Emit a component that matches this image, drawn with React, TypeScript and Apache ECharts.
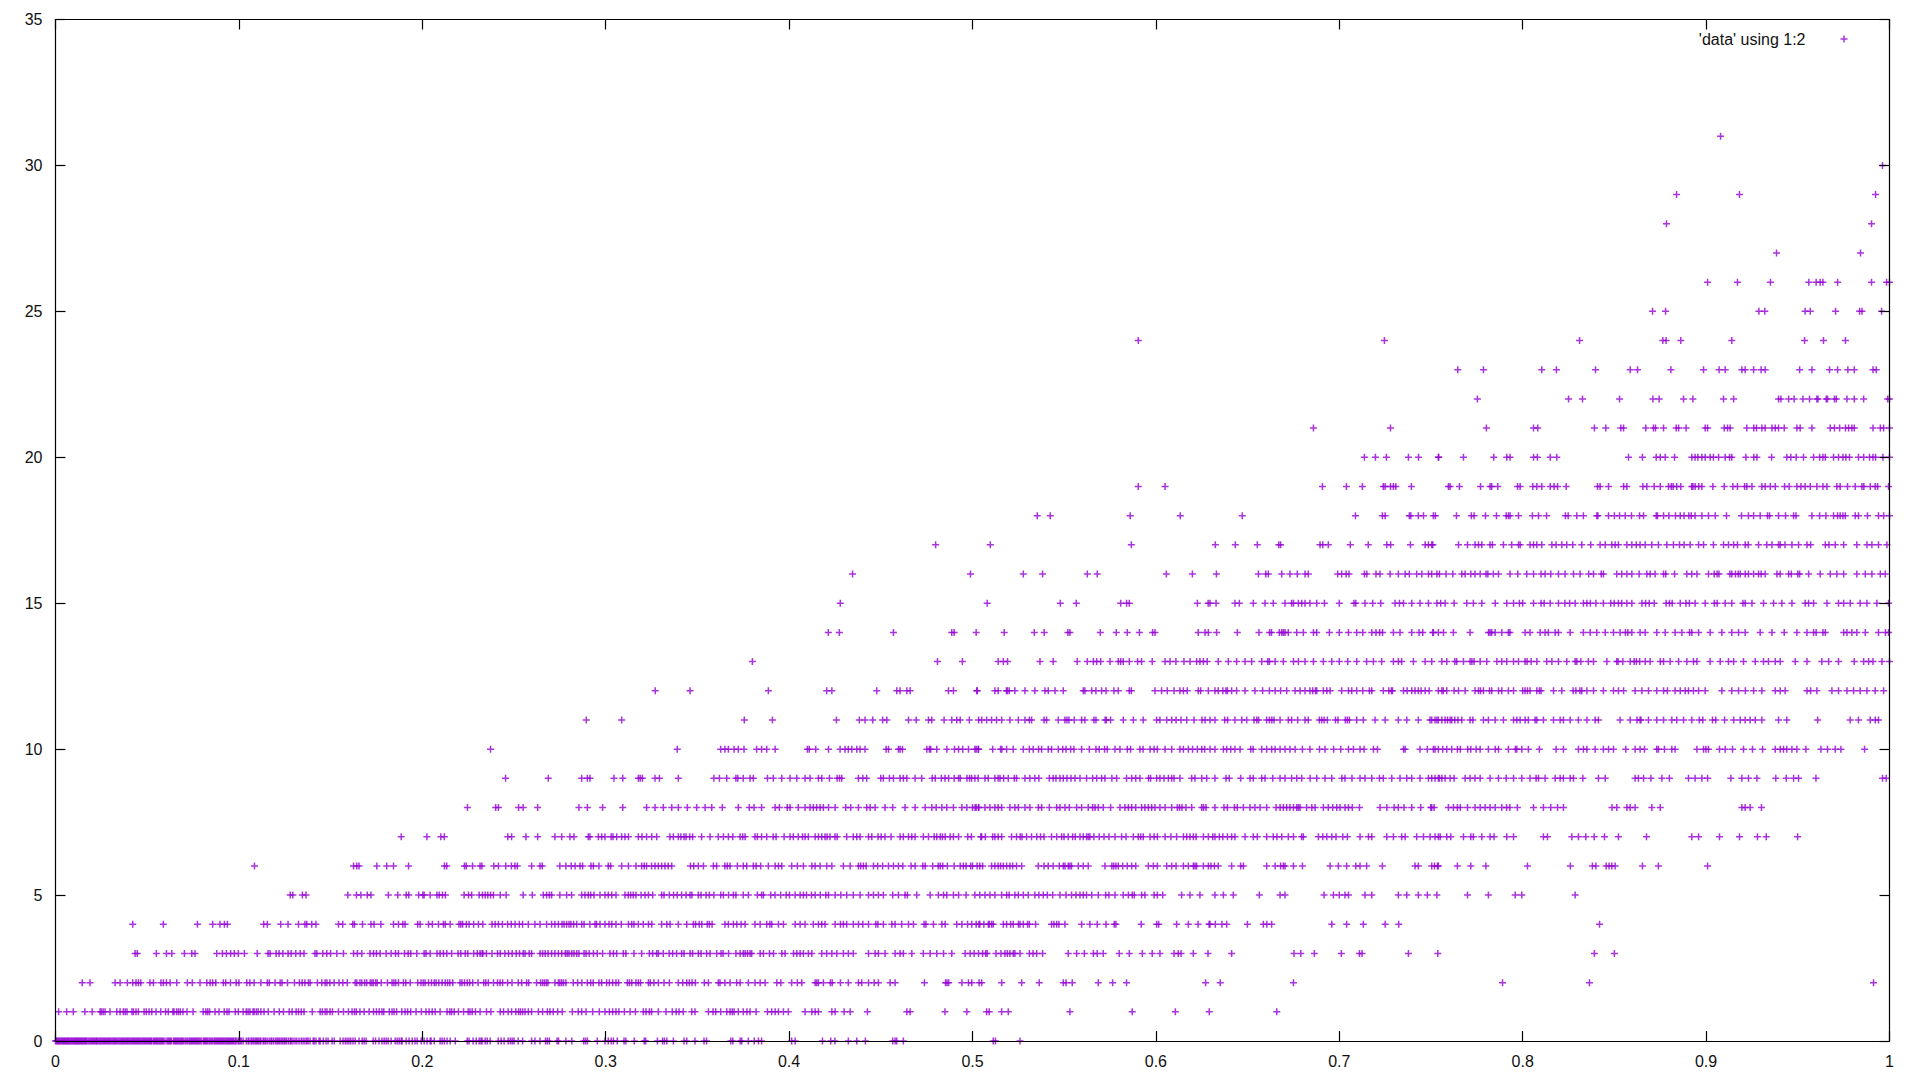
import React, { useEffect, useRef } from "react";
import * as echarts from "echarts";

const seriesName = "'data' using 1:2";
const markColor = "#9400d3";
const xTicks = { min: 0, max: 1, interval: 0.1 };
const yTicks = { min: 0, max: 35, interval: 5 };

// Each row holds the x readings (in thousandths) for one integer y value.
const row0 = [0,.5,1,1.5,2,2.5,3,3.5,4,4.5,5,5.5,6,6.5,7,7.4,8,8.5,9,9.5,10,10.5,11,11.5,12,12.5,13,13.5,14,14.5,15,15.5,16,16.5,17,17.7,18.3,19,19.6,20.2,20.8,21.4,22,22.5,23,23.7,24.3,24.8,25.4,26,26.6,27.2,27.8,28.4,29,29.6,30.2,30.8,31.4,32,32.6,33.2,33.9,34.6,35.2,35.8,36.4,37,37.6,38.2,38.8,39.4,40,40.6,41.2,41.8,42.4,43,43.6,44.2,44.8,45.4,46,46.6,47.2,47.8,48.4,49,49.6,50.2,50.8,51.4,52,52.5,53.4,54,54.6,55.2,55.8,56.4,57,57.6,58.2,58.8,59.7,60.8,61.4,62,62.6,63.2,64.3,64.9,65.5,66.1,66.7,67.3,67.9,68.5,69.1,69.7,70.6,71.2,72,72.8,73.4,74,74.6,75.2,75.8,76.4,77,77.6,78.2,78.8,79.4,80.5,81.1,81.7,82.3,82.9,83.7,84.3,85,85.7,86.5,87,87.6,88.2,88.8,89.4,90,90.6,91.2,91.8,92.4,93,93.6,94.2,94.8,95.4,96,96.6,97.2,98,98.5,99.5,100,100.7,101.4,102.3,104,105,105.5,106.6,107.2,108,108.8,109.4,110,110.7,111.5,112,113.2,113.7,114.5,115.4,116.5,117.5,118,119,120,120.8,121.4,122.2,123,123.8,124.6,125.2,126,127,128,128.5,129.5,130.6,131.6,132.8,134,135,136,137,137.7,138.8,140.5,141,142,143.7,144.3,146,147.5,148.6,150.8,152,155.2,156.8,158,159,160,161,162.2,163.4,165.5,167.2,168.3,169.4,173.2,174.5,176.4,178,179.2,180.3,181.4,183,185.2,186.3,187.4,188.5,189,191.2,192.8,194.5,196,197.2,199.4,201,202.6,204.3,204.8,206.5,209.7,210.8,212,213.5,215.2,218,224.5,225.5,227.7,229.4,231,232,232.6,234.3,235.4,237,241.4,243,244.6,246.8,248,249,250,252.3,254.7,259.6,261.4,264.2,267.2,268.2,269.3,273.5,274.3,278.3,281.5,288,289,290,295.4,299.6,301.4,303,304.2,306.3,310,311,315.6,321,321.8,328.2,331,332,333.3,336.9,342.7,344.2,348.7,353.6,355,368.2,369.3,373.3,374.2,377.8,381,383.3,385,401.4,403.3,418.2,422.7,425,432.3,436.9,441.6,456.5,457.8,458.7,462.3,511.3,512.5,525.9];
const row1 = [1.7,6.1,9.7,16,20,24.3,25,26,27,29.7,33.4,35.2,37,38,39,41.7,42.5,43.9,45.2,48.3,49.5,51,52.5,54.8,57.4,60,61.5,64,64.6,66,67,68,69.5,71.7,75,80.5,82,83,84,87,89.2,92,93.5,94.6,98,99.7,102.3,104,105,106,107.7,108.3,109.5,110.5,112,113.7,116,119.2,122,124.3,127.4,129,131.2,132.5,134,135.5,140,144.3,145.5,147,148,149.7,151,154.3,157,159.7,161.7,163,164,166,168.3,171,173.4,175,176.5,178,179,182,183.5,184.6,186,188.8,190.6,192,193.7,196.6,199.5,202,203.7,205.4,207,209.7,213.5,215,216,217.4,219.7,222.5,225,226,227.2,229,231.5,235,237.4,242.5,244.3,246.8,248.7,251,252.5,253.5,254.7,256,257.8,259.6,263.3,265.6,268.2,269.6,271.4,273.8,276.3,281.8,285,286.9,289.3,292.9,296.5,299.6,302,303.8,305.6,307.2,310.2,313.3,316.2,320.5,322,323.8,325,328.7,332.9,336.3,338.4,340,342.3,346.9,348.7,356,358.5,360,362.7,366,367.8,369,370,372.3,375,377,378.7,382,388.2,390.5,392.4,394.2,396.9,399.6,408.7,412.4,414.2,416,423.3,425.1,430,433.3,442.7,464.2,466,485,496.9,507.7,509.1,515.9,519.5,553.1,587.1,610.6,629.1,665.9];
const row2 = [14.6,18.8,32.5,35.2,39.2,42.1,43.9,45.2,46.5,51.5,53.4,57.5,58.8,60.5,62.5,66.1,71.9,74.6,78.8,82.5,84.3,85.7,87.4,91.5,92.8,95.4,98.5,100,104.3,106,108.3,112,115.5,116.6,119.7,122.5,123.5,126.5,130.3,133,134.5,136,137.9,138.8,142.8,145.2,147,148,149.6,151.9,154.6,156.7,159.1,163.4,164.3,166,167,168.6,169.7,171.6,172.5,173.3,174.6,175.4,177.6,181,183.5,184.5,185.5,187,189.7,191,193.4,197.5,199.3,200.5,201.5,203.4,205,206.5,207.5,209,210.8,212.5,213.8,215,216.6,220.6,221.6,223,224.5,225.8,227.5,230.4,233.5,234.6,236,238.8,241,242.4,243.8,246.5,248.9,252.3,254.2,256.9,258,262.3,264.5,265.6,266.6,267.6,268.5,272.3,274.2,275,276,277,278.3,282.3,284.7,287,290,291.8,293.2,296.3,297.8,300.5,302,303.8,305.6,307,311.8,312.9,314.2,316.5,317.8,319,323.3,324.3,326.3,328.7,331.8,334.7,339.6,342,344.2,345.6,347.1,348.9,353.8,356,361.4,362.3,365,367.8,371.4,373.3,377.8,381.4,384.2,386.9,393.3,395.5,401.4,404.5,406.9,414.2,415.1,416,418.7,422.5,423.5,428,432.3,437.8,439.6,443.3,446.4,448.7,455.1,457.8,473.8,485.3,486.1,487,494.2,497.8,499.6,503.6,505,515.9,526.8,536.4,549.5,551,554.4,568.6,576.4,584,627.1,635.1,675,789,836.4,991.3];
const row3 = [43.4,44.6,55,60.5,63.4,70.3,74.3,76.1,87.9,91,93.2,95.5,97.5,99.7,103,110,115.9,117,120.3,121.9,124,126.8,128.5,131,133.4,135.5,141.5,142.5,145.7,147.9,150,153.4,157,162.5,164.6,167,171.5,173.4,175,177,180.3,183,185.4,187,190.3,192.3,193.7,197,201,202,204.3,208,209.7,211.5,213.4,216,219.5,221,223.4,224.8,228,230,231.5,232.6,233,235,238,241,242.5,245,247,249,251.2,253,255,256,258.3,259.6,264.2,265.6,267,268.6,270.5,272.3,274.2,276,278,279,280,281.5,282.7,284.2,285.4,288.2,289.3,291,293.3,295.4,298.3,302.3,304.2,306,309.6,311,315.4,319.6,323.8,325.6,327.8,328.7,331.4,334.6,336.5,338.7,341.4,342.7,346,347.4,350.5,352,355,356.9,360.5,362.9,364,367,371,373.3,375,376,377.3,378.7,379.6,384.2,386,389.3,391.5,396,397.8,402.4,404.2,406,407.8,410.5,412.4,417.8,420.5,423.3,426,429.6,432.3,435,443.3,446.9,448.7,452.3,457.8,460.5,462.3,466.9,473.2,476.9,480.5,484.2,488.7,496,498.7,500.9,503.3,505.5,507.2,508,512.8,515.5,517.7,519,520.4,522.2,523.1,525.9,531,533,535,538.2,552.2,556.8,561,565.9,568,571.3,580,585.5,592.6,598,602.2,609.9,612.2,613.7,620.4,628.4,641.3,675.3,679,686.4,701.1,711,712.4,737.7,753.7,839.1,850];
const row4 = [42.1,58.8,77.4,85.7,89.7,92.1,93.7,113.5,115.5,122.8,126.8,132.5,136,137,139.7,142,154.3,156.6,162.1,163,167.4,172,173.7,177.4,184.3,187,189.4,190.6,197.5,198.8,203.4,205.5,208.8,211.5,212.5,215.2,220,221,222,224,225.5,228,230.6,233,238,239.7,241.5,243.7,246.5,248.5,250.6,252.9,254.7,257.8,261.4,264.2,267.8,270.5,272.3,274.2,276.2,277.3,278.7,280,281,282.5,284.2,286.9,288.2,291.4,294.2,295,296.9,299.6,301.8,303.3,305.6,308.5,312.4,314.2,315.4,317.8,320.5,323.3,325.1,330.5,333.3,335.1,339.6,344.2,347.8,349,351,352.4,355.4,356.5,358,365,366.9,369.6,371.5,373.8,376,381.4,384.2,387.8,389.5,390.5,394.2,396.9,403.3,406,408.7,413.2,416,417.8,419.6,425.1,428,429.6,431.4,435,437.8,440.2,443.3,447.3,448.4,451.4,456,457.8,461.4,465.1,467.8,473.6,474.6,478.7,483.3,485.1,491.4,494.2,497.3,499.6,502,503.5,504,506.2,508.6,509.2,510.4,511.3,516.8,518.6,520.8,522.2,525,525.9,527.7,530,531,534.4,543.1,544.4,545.9,547.1,550.4,559.5,564,568,572.8,577.3,578.2,592,600.4,601.5,611.3,617.7,623,629,629.5,632.4,636,638.6,649.9,658.6,660.5,663.1,695.9,704,713.1,725,732.4,841.9];
const row5 = [128,129.4,134.6,136.6,159.4,164.1,166.5,170,172,181.5,186.6,191.2,192.6,198,200.3,201,204.3,208,209.2,211,212.6,222.8,225.2,226.9,231,232.8,234.3,235.7,237.2,238.8,242.5,245.7,255,260,266,267.8,269.3,270.5,275,278.7,281.4,286.9,288.7,290.5,291.8,293.6,296.9,299.6,301.4,303.3,305.6,310.5,312.3,313.6,315,316.5,319.3,321.4,323.3,325.6,330.5,331.8,334.7,337,339,341.4,343.8,346,347,350.5,352,354.7,356.5,359,362.7,364.2,367,369.6,371,375,377.8,382.7,385,386,390,392.3,395.4,398.4,400.2,403.3,406,407.8,409.5,412.2,414.2,417,420,421.5,425.1,428.2,431.4,435,438.7,443.3,446,448.7,451.4,456.5,459.6,463.2,464.5,469.6,476.9,481.4,484.2,486,489.6,492.4,496.5,501.3,504,506.8,509.5,512.2,515.9,518.6,520,523.1,525,527.7,530.4,534,536.2,538.6,540.8,543.7,547.7,551,554,556.4,558.6,560.4,562.2,565,568.6,572.6,574.4,577.7,582.2,585,587.1,588.2,592.2,594,599,600.8,603.7,614,618.6,624,632.2,636.8,642.2,656.4,667.7,670.4,691.7,696.8,700,703.1,705,714,717.7,732.2,736.8,743.1,748,753.2,769.9,781.3,795.9,799.5,828.6];
const row6 = [108.5,162.5,164.3,165.5,175.2,180.6,184.3,192.5,212.1,213.3,223,224,227.4,231.5,232.5,239,241.5,245.5,248.6,250.5,251.8,259.6,264.2,265.4,275,278.3,281.2,283.3,286,287.4,292,293.3,296.3,301.4,302.7,308.7,312.4,316.5,319.6,321,322.3,325,326.9,328.7,330.5,332.3,334.1,336,346.2,348,350.5,353.3,358.7,360.5,365,366.3,367.8,371.8,375,376.9,380.5,382,384.5,388.7,392.4,394.2,396,401.4,404.5,407.8,412.4,414.2,416.9,420.5,423.3,429.6,433.3,437.8,439,440.5,442,446,448.3,451,454.2,456.9,459.6,462,466.5,468.7,472.9,474.2,478.3,481.3,482.4,483.8,486.3,490,493.3,495,496.5,499,500,502.5,504,505.5,510.4,512.2,514,515.3,516.8,518.6,520.4,521.9,524,526.8,535.9,539,541.3,544,547.3,549.5,550.4,552.2,553.1,554,557.7,560.4,563.1,572.2,576,577,578.2,579.5,581.9,584.4,586.8,589,595.9,598.6,600.8,605.9,608.6,611,615,617.7,620.4,621.3,622.2,625.9,628.6,630,631.9,634,641.3,646.2,647.7,660.4,665,668,669.5,670.4,675,679.9,695,699.5,704,709,711.3,714.9,723.5,741.3,743.1,751.9,754,750.4,753.5,764.4,771.7,779.9,802.6,826,838,839.9,845.5,847.1,848.6,850.4,865.3,874,900.8];
const row7 = [188.5,202.5,210.1,212,246.6,248.7,256.5,262.9,272.3,276,280.5,282.7,290.5,291.4,296,297.8,299.6,303,304,306,308.7,310.5,312.4,317.8,319.8,322.3,325.1,327.8,335,336.9,339.6,341,342.7,343.8,345.8,347.4,352.3,356.9,361.4,364.2,366.9,369.3,373.3,374.7,376,381.4,382.7,385,387.8,391.3,392.9,397.3,400.5,402.3,405,407.3,408.7,410.5,414.2,416,417.8,419.6,420.7,422.3,425,426.2,431.4,435,436.9,438.7,443.3,445.1,448.5,450.2,452.3,455.6,460.5,462.3,465.1,466.9,468.7,473.2,476,479.1,480.5,482.4,483.6,485.1,487.8,489.6,492.4,497.4,499.4,504.5,505,507,511,512.2,514,515.9,521.3,524,526,527,529.5,532.2,535,537.1,539,543.1,545.9,548.6,549.9,552.2,554.6,556,558.6,560.4,562.2,563.1,564,566.2,569.1,571.7,574.4,577.7,581.3,583.7,587.7,590.4,591.7,593.1,596.8,599,600.8,605,608.2,611.3,615,616.8,618.6,620.4,621.9,625.9,628.6,631,632.2,634.6,636.5,639,641.3,643.1,648.6,653.1,655.3,660.4,664,666,668.6,672.2,675,679.5,680.4,688.6,691,693.2,695.9,698.2,701.9,704.4,711.3,715.9,717.7,725.9,729.5,734,735.9,742.2,745.9,749.5,752.2,754,755,758.6,760.8,767.7,771.7,773.1,777.7,782.2,784.4,791.3,795,811.3,813.5,826.8,830.4,834.4,839,844.6,852.2,867.5,892.2,895.9,907.3,918.2,928,932.8,949.9];
const row8 = [224.6,240,241.5,252.5,255,262.9,285.4,290,298.3,309.3,322.3,326.9,331.4,336,339.6,344.5,349.6,354.2,357.8,363.6,372.3,378.3,380.9,385,392.4,394.7,399,400.5,405,408.7,411.4,413.2,415,416.9,418.7,421.5,425.1,430.9,433.6,437.8,442.3,444.2,446.9,452.3,456.5,463.2,468.7,474.2,477.8,480.2,483.3,486,489.6,494.2,496.9,500,501.4,503.3,502,503.4,506.8,509.5,512.2,514,515.9,520.4,523.1,525,528.6,531.3,535.9,537.7,541.9,545.9,547.7,550.4,552.8,556.8,559.5,563.1,565.5,566.8,568.6,571.3,575.3,580.4,583.1,585,586.8,589,592.2,594,595.9,597.7,599.5,602.2,605,608.6,611.7,612.9,614.2,616.4,619.5,625,626,627.3,632.2,637.1,639,642.8,644.4,647.7,651.3,654,656.8,660.4,665.5,667.7,669.5,671.3,673.1,675,676.8,677.7,678.6,682.2,685,686.8,691.3,694,696.4,698.6,700.4,703.1,705,707.1,711,722.2,725.9,729.9,732.2,735.3,739.5,744.4,749.9,750.4,751.7,759.5,762.2,764.4,766,769.9,774,776.8,779.5,782.2,785,788.6,791.2,793,797.1,805.9,811.3,815.3,819,822.2,848.7,851.3,856.8,858.6,861.3,870.4,875,919.5,921.3,924,930.2];
const row9 = [245.4,268.7,286.9,290,291.4,304.5,309.3,317.8,318.8,320,326.9,329.3,339.6,359,362,366,371,372,375,378.7,380.5,388.2,391.4,396,400.5,404.2,408.7,411.4,416,417.8,422,426.2,427.5,428.7,437.8,440.2,442.3,450,451.4,454.7,456.9,460.5,462.3,464.2,468.7,472.3,478,479.7,483,485,487,490,492.4,493.3,497,498.4,499.5,501.3,503.1,506.8,508.6,512.2,514,515,517,519.5,522.8,524,528.6,531.3,534,536.2,541.9,544,545.5,547.7,549.5,551.5,553.7,555.9,558.6,562.2,565.5,567.7,570.4,572.2,576,578.6,584,586.8,589,591.3,596,597.1,600.4,602.2,604.4,606.8,608.6,609.9,613.1,619.5,621.3,625,627.7,632.2,638.2,640,646.2,651.3,653.1,657.7,659.5,663.7,667.7,670.4,674,676.8,679.5,684.1,687.7,692.2,695.9,701.4,703.1,706.9,711.3,714,717.7,721.9,724,728.6,733.1,736.8,739.5,744,748.6,750.4,752.2,754,754.6,755.9,757.7,760.4,762.6,768.6,771.3,774,776.8,782.2,786.8,791,795,799.5,804,807.3,808.6,812.2,817.7,820.4,822.2,825.9,827.7,832.8,841.3,845,861.3,863.1,865.9,869.9,875.9,880,890.4,894,897.7,900.8,913.5,919.5,923.1,927.7,938,943.7,947.7,950.4,959.9,996.2,998.2];
const row10 = [237.2,339,362.7,365,366.9,370,372.3,375.4,382.3,385,387.8,392.4,410,411,414.5,421.5,427.8,430.5,432.3,434.2,436.9,438.7,441.4,452.9,454.2,459.6,460.5,461.8,475.1,476.5,477.2,480.5,486,490.2,492.4,494.7,497.8,502,503.3,501.3,503.1,511,515.3,516,518.6,522.2,527.7,531,533.1,536,537.7,541.3,543.1,546.8,549.2,551,553.5,555.3,559.5,563.7,567.3,569.1,572,573.5,577.7,580.4,584.4,586.2,591.3,593,596.8,599,600.8,605,608.6,613.1,615,617.7,620,622.6,625,626.6,629.5,632.2,636.8,638.6,640.8,643.1,645.9,651.7,653,657.7,660.4,663.1,665,667.7,670.4,673.1,675.9,679.9,684,689.2,692.2,696.9,700.8,705,707.7,711.3,713.5,718.6,720.8,735,735.9,744,748,752.2,754,751.3,756.4,758.6,761.3,764.4,766,770,771.7,774.6,776.8,781.3,785,786.8,792.2,796,796.8,799.5,803.1,809.1,818.2,822.2,830.4,833.1,835,839.5,844,846.8,849.5,856.2,861.3,864,866.4,873.1,874,877.3,881.3,883.1,895,898.6,899.9,901.3,907.3,910.4,914.4,920.4,925.3,930.8,937.7,940.4,942.2,944,946.8,949.5,954.4,962.6,966.2,970.4,973.5,986.4];
const row11 = [289.4,308.7,375.6,390.9,425.8,438.3,441.4,445.6,451,453.3,465.1,469.3,476,477.8,484.5,488.7,491.4,493.3,498.3,503.3,505,507.7,510.4,513.1,515.9,520.4,525,528.6,531,532.2,539,540.4,546.8,550.4,551.5,552.6,555.5,559.5,561.3,566.2,567.3,572.3,573,575.3,582.2,587.7,593.1,600.4,602.2,605.9,608.6,611,613.7,616.8,620.8,625.1,626.8,629.5,632.2,637.5,639.1,643.1,646.8,649.5,653.5,655,656,660.4,661.9,663.2,664.4,667.7,672.2,674,677.3,681.3,683.1,689.1,690.4,691.7,693.5,697.9,699.3,703.3,704.4,705.5,709.5,713.1,719.5,725,732.2,736.8,743.1,749.5,753.2,750.4,752.2,754,755.9,757.7,759,760.4,761.3,763,764.7,766.8,771.3,772.8,778.6,781.3,785,789.5,795,796.8,798.6,801.3,803.1,806.8,807.7,811.3,816.8,820.4,822.2,825.9,830.4,835,839.5,841.3,853.1,858.6,862.3,864,864.5,868.6,873.1,876.8,881.3,884,887.7,892.2,896.3,898.2,903.5,905.3,910.1,915,918.6,921.3,924,926.8,930.4,939.5,944,960.8,978.6,983.1,989.5,992.2,994];
const row12 = [327,346,388.7,420.5,423.3,447.8,458.7,460.5,464.2,466,486.9,489.6,502.3,502.6,512.2,514,518.5,519,520,523.1,528.6,534,539.5,541.3,545,549.5,560.4,561.3,565,567.3,570.4,572.8,577.1,579.5,585.5,586.6,599.5,603.1,606.2,609.9,613.1,615,617.1,623.1,624.4,628.6,632.2,634,636.5,638.2,639,641.3,644,648.6,654,658.2,661.9,665,668,671.3,675.9,678.6,681.3,684,685.5,687,687.7,691.3,693.2,695,701.3,705,706.8,709.5,712.8,716.4,717.7,724,727,728.4,729,735,737,739.5,741.3,743.1,744.6,746.8,749,754,755.9,756.7,758.6,762.6,765,768.6,774,775.9,777,778.6,781.9,783.1,786.8,788.6,792.2,795,800,801.3,802.6,804,807.7,809.1,810,816.8,821.3,827.5,829,831.2,832.2,835,838.6,844,849.5,852.2,855,861.3,865,868.6,873.1,876.8,878.9,883.1,885.9,888.6,890.4,893.1,895.9,899.5,908.6,914,917.7,921.4,925.9,930.4,937.7,940.4,943.1,955,957,960.4,968.6,972.2,976.8,980.4,984,987.7,992.2,996.8];
const row13 = [379.98,480.9,494.5,514,516.8,519.1,536.8,544,557.1,562.6,565.9,567.7,569.9,575,579.5,580.8,582.2,585.5,590,592.2,598,605,607.7,610.9,615.3,618.6,622.2,624,625.9,628,634,639.5,644,648.6,652.2,657.7,661,661.9,665,669.5,675,677.7,681.3,685.9,691.3,695.9,700,704.6,709.5,714.9,718.6,723.1,729.5,732.2,734,740.4,746.8,750.4,755.9,758.6,763,764,767.7,771.3,772.3,773.5,776.8,780.4,785.9,788.6,791.3,795,797.7,801.3,802.4,804.6,807.7,813.1,815.9,819.5,824,828.6,829.5,831.7,835.8,838.6,845.9,851.3,852,854.6,858.6,860.8,862,863.8,866.8,869.5,875,876.8,880.4,885,889.5,893.1,895,902.2,907.7,912.2,915,920.4,926.8,931.3,934,937.7,940.4,948.6,955,963.1,966.8,972.2,980.8,985.9,988.6,991,995.9,1000];
const row14 = [421.4,427.4,456.9,488.7,490,502,517.3,533.7,539.1,552,553.1,569.7,578.4,584.4,591,598.2,599.5,623.1,626.8,628.6,633.1,644.4,656.2,662,663,667.3,668.6,669.5,670.4,672.2,676.8,680.4,685.9,687.7,694.6,700,705,709.5,712.8,717.7,720,722,723.6,729.5,733.1,739.5,743.5,745.5,751,754,751.3,756.8,762.2,771.3,781.4,782.2,783.1,785,788.6,792.2,793,801.3,804,809.5,812.2,814,817.7,819.5,825.9,833.1,836.8,840.4,845,849.5,853.1,856,857.3,859.5,864,866.8,873.1,877.7,883.1,886.8,891,892.2,895.9,902.2,908.6,914,917.7,921.3,929.5,935.9,942.6,949.5,955,958.6,960,963.7,965,975,976.8,979.5,982.2,986.8,994,997.8,999.5];
const row15 = [427.9,508,547.9,556.6,580.8,584,585.5,622.6,628.5,629.5,632.8,643.1,645.5,653.1,659.5,664,670.4,674,675,677.7,679.5,681.3,684,687.7,691.9,700,708,709,714,718.2,722.6,730.4,732.8,735,739.5,744,748.6,753.2,755.3,757.7,762.6,769.5,773.1,777.7,785,791.3,795,798.2,800,805.9,810,811.7,815,819.5,823,825.6,828.6,833.1,835,836.9,839.9,844,848,849.9,852.2,854,856.8,859.5,865,867,869,871.7,878.2,880,881.5,885.9,889,890.9,894,899.5,904.5,906,910.4,914,920.1,921.3,925,931.3,936.8,941.3,946.8,954,955.9,958.6,965.9,972.2,975,978.6,984,987.7,993.1,999.5];
const row16 = [434.6,498.9,527.7,538.2,562.6,568,605.7,619.9,633,655.9,659.9,661.3,668.6,673.1,677.1,681.3,683.1,699.1,701.3,703.7,705.3,713.7,715,720,722.2,727.7,732.2,735.9,738.2,742.2,745,748.6,750.4,753.2,754.6,758.2,761.9,766.8,768.6,771.7,774,776.8,780,781,784,786.8,793.1,797.3,802.2,805.9,810,812.2,815.3,819.5,823.1,827.7,831.3,836,838.6,842.8,844,851.3,854,856.8,859.5,863.5,867.7,869.5,872.2,876.8,878,882.8,889.5,892.2,895,901.3,904.4,906,907,913,914,916,917.5,918.6,921.3,923.1,925.9,928.6,930,932.2,938.6,940.4,945,946.5,950,951,955.9,962.2,967.7,971.3,975,982.2,986.8,990.4,995,997.7];
const row17 = [479.9,509.7,586.6,632.4,643.3,655.3,667,668,689.5,691,694,706,715.8,725.9,728,738.8,746.8,748.6,750.4,751,765,769.9,774,775.9,777.7,782.2,783.5,789.5,794,797.7,798.6,804,805.9,807.7,810.4,815.9,818.2,821.3,824,827.3,832.2,837.1,842.2,845,848.6,850.4,852.2,856.8,859.5,861.9,864,866.8,870.4,874,878.6,882.2,885.5,888,891.3,895.9,898.6,904,909.5,912.2,915,917.1,921.3,923,928.6,933.1,935.9,939.5,940.4,943,946.8,950.4,955,957,965,967,970.4,975,982.2,987.7,990.4,994,998.6];
const row18 = [535.3,542.4,586,613.3,647.1,708.8,723.5,725,738.2,739,743.1,745.9,751.3,752.4,763.9,772,773.5,779.7,785.7,791,792.2,793.1,797.7,805.3,808.6,813,823.3,824.8,829.5,833.1,840.4,841,846.8,850,852.8,855.9,859.3,863.7,865.9,872.8,873.5,876.8,879.7,883.3,885.9,888,890.6,891.9,894,897.7,901.3,905,911.1,919.3,923.1,925.9,929.5,933.5,934.6,939.5,943.3,947.7,949,957.7,961.9,965.3,969.5,971.7,973.1,974.6,975.9,981.3,983.1,988,994,996.8,1000];
const row19 = [590.4,605,690.8,703.9,712.6,724,725,727.9,729.5,730.8,739.3,759.5,760.4,765.5,777,782.2,783.1,786.4,797.2,798.6,805.5,807.7,810.4,815,817.1,819,823.7,840.8,842.2,846.8,855,856.8,865.5,867.7,871.7,875,879.5,881,882,884,886.2,892.2,892.8,894,896,897.7,903.7,909.9,914.6,917.1,921,922.2,925,930.4,932.2,935,937.7,942.8,945.3,949.5,951.7,954,956.8,960.4,963.7,965.9,971.3,973.1,977.1,981.3,985,986,989.5,992.2,993.5,999.5];
const row20 = [713.7,719.7,725.7,737.7,743.2,754,754.2,767.7,784.2,791.3,793.1,805.9,808,815,818.6,857.7,865.3,872.8,875,877.7,882.8,892.2,894,895.5,897.7,899.5,902.2,904,906.8,910.4,912.8,914,921.7,926,927.7,935.7,944,946.2,949.1,953.1,958.6,961.9,963.7,965,969.5,972.2,974.6,976.2,978.2,983.1,985.9,989.1,991,992.4,996.4,1000];
const row21 = [685.9,727.9,780.2,805.9,808.2,839.1,845.3,853.5,855,867.1,871.3,872.4,876.8,883.7,885,889.1,899.5,900.8,909.9,911.7,913.1,922.2,926,927.5,930.4,932.2,935.9,937.7,939.5,942.6,949.5,951.3,957.7,967.7,970,972.8,976,977.7,979.5,980.8,991,995,996.8,1000];
const row22 = [775.3,825,832.6,852.8,871,874.4,887.7,892.8,909.5,915,939.5,940.8,945,948,952.8,956.4,960.4,961,965.5,966.2,970,971,976.8,980.8,985.9,999,1000];
const row23 = [764.6,778.6,810.4,818.4,839.7,858.6,862.6,880.8,898.6,907.1,910.4,919.5,921.3,925.9,930,932.2,951,957.7,967.3,971.7,977.3,980.8,991,992.8];
const row24 = [590.4,724.6,831,876.4,878.2,886.2,914,953.7,964,976];
const row25 = [870.8,877.9,928.8,932,954,956.8,970.6,983.7,985,995.7];
const row26 = [900.8,917.1,935.1,956,960,962.2,963.7,971.7,990.2,998.4,1000];
const row27 = [938.4,984.2];
const row28 = [878.4,990.2];
const row29 = [883.9,918.2,992.4];
const row30 = [996.2];
const row31 = [907.9];

const rows = [row0,row1,row2,row3,row4,row5,row6,row7,row8,row9,row10,row11,row12,row13,row14,row15,row16,row17,row18,row19,row20,row21,row22,row23,row24,row25,row26,row27,row28,row29,row30,row31];

const plusIcon = "path://M0,5H10M5,0V10";

export default function App() {
  const ref = useRef<HTMLDivElement>(null);
  useEffect(() => {
    const chart = echarts.init(ref.current!, undefined, { renderer: "svg" });
    const points: number[][] = [];
    rows.forEach((r, y) => r.forEach((v) => points.push([v / 1000, y])));
    const line = { show: true, onZero: false, lineStyle: { color: "#000", width: 1.2 } };
    const tick = { show: true, inside: true, length: 10, lineStyle: { color: "#000", width: 1.2 } };
    const label = { color: "#111", fontFamily: "Liberation Sans", fontSize: 16 };
    chart.setOption({
      animation: false,
      backgroundColor: "#fff",
      grid: { left: 55.5, right: 30.5, top: 19.5, bottom: 39, containLabel: false },
      legend: {
        show: true,
        data: [seriesName],
        align: "right",
        right: 70,
        top: 31,
        padding: 0,
        itemWidth: 67,
        itemHeight: 7,
        icon: plusIcon,
        itemStyle: { color: "none", borderColor: markColor, borderWidth: 1.5 },
        textStyle: { color: "#111", fontFamily: "Liberation Sans", fontSize: 16 },
      },
      xAxis: [
        { type: "value", position: "bottom", ...xTicks, z: 5, axisLine: line, axisTick: tick, splitLine: { show: false },
          axisLabel: { ...label, margin: 12, formatter: (v: number) => String(v) } },
        { type: "value", position: "top", ...xTicks, z: 5, axisLine: line, axisTick: tick, splitLine: { show: false }, axisLabel: { show: false } },
      ],
      yAxis: [
        { type: "value", position: "left", ...yTicks, z: 5, axisLine: line, axisTick: tick, splitLine: { show: false },
          axisLabel: { ...label, margin: 13 } },
        { type: "value", position: "right", ...yTicks, z: 5, axisLine: line, axisTick: tick, splitLine: { show: false }, axisLabel: { show: false } },
      ],
      series: [
        {
          name: seriesName,
          type: "scatter",
          xAxisIndex: 0,
          yAxisIndex: 0,
          clip: false,
          symbol: plusIcon,
          symbolSize: 7,
          data: points,
          itemStyle: { color: "none", borderColor: markColor, borderWidth: 1.5 },
          emphasis: { disabled: true },
          silent: true,
        },
      ],
    });
    return () => chart.dispose();
  }, []);
  return <div ref={ref} style={{ position: "absolute", left: 0, top: 0, width: 1920, height: 1080 }} />;
}
